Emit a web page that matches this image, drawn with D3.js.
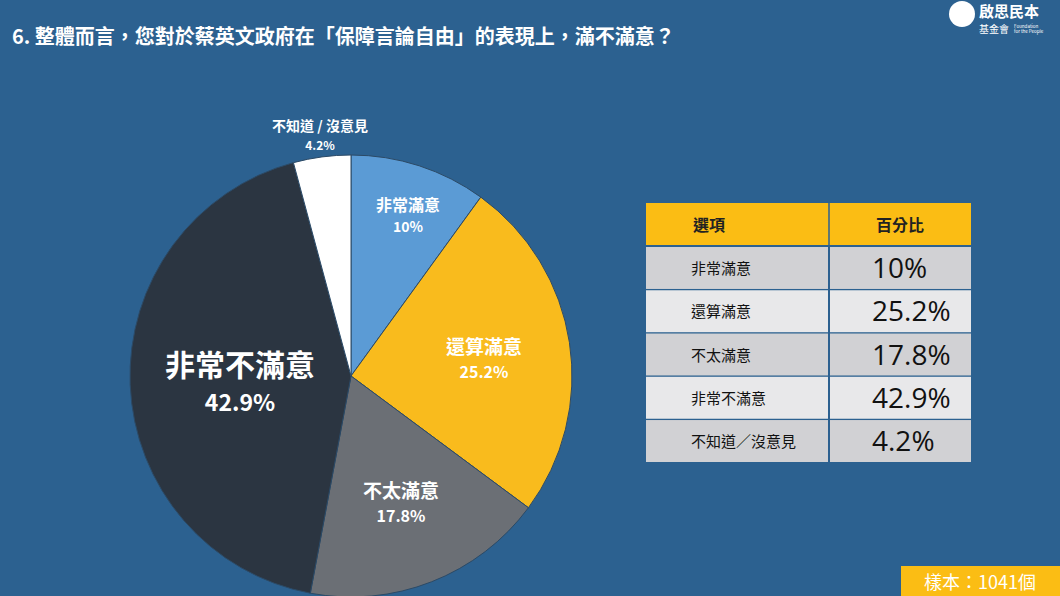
<!DOCTYPE html>
<html><head><meta charset="utf-8">
<script src="https://cdn.jsdelivr.net/npm/d3@7"></script>
<style>body{margin:0;background:#2c6190;font-family:"Noto Sans CJK TC","Noto Sans",sans-serif;}</style>
</head><body>
<svg id="chart" width="1060" height="596"></svg>
<script>
"use strict";

var categories = ["非常滿意", "還算滿意", "不太滿意", "非常不滿意", "不知道 / 沒意見"];
var tableNames = ["非常滿意", "還算滿意", "不太滿意", "非常不滿意", "不知道／沒意見"];
var values = [10, 25.2, 17.8, 42.9, 4.2];
var colors = ["#5b9bd5", "#f9bb1d", "#6b6f75", "#2b3541", "#ffffff"];

var svg = d3.select("#chart");
var F = "'Noto Sans CJK TC', sans-serif";

svg.append("rect").attr("width", 1060).attr("height", 596).attr("fill", "#2c6190");

svg.append("text").attr("x", 12).attr("y", 44).attr("fill", "#fff")
  .attr("font-family", F).attr("font-size", 20).attr("font-weight", "bold")
  .text("6. 整體而言，您對於蔡英文政府在「保障言論自由」的表現上，滿不滿意？");

// logo
var logo = svg.append("g").attr("transform", "translate(962,14)");
logo.append("circle").attr("r", 13).attr("fill", "#fff");
logo.append("text").attr("x", 17).attr("y", 3).attr("fill", "#fff").attr("font-family", F)
  .attr("font-size", 15).attr("font-weight", "bold").text("啟思民本");
logo.append("text").attr("x", 17).attr("y", 19).attr("fill", "#fff").attr("font-family", F)
  .attr("font-size", 10).text("基金會");
logo.append("text").attr("x", 52).attr("y", 14).attr("fill", "#fff").attr("font-family", F)
  .attr("font-size", 4.5).text("Foundation");
logo.append("text").attr("x", 52).attr("y", 19).attr("fill", "#fff").attr("font-family", F)
  .attr("font-size", 4.5).text("for the People");

// pie
var cx = 351, cy = 376, r = 221;
var pie = d3.pie().sort(null).value(function (d) { return d; });
var arcs = pie(values);
var arc = d3.arc().innerRadius(0).outerRadius(r);
var g = svg.append("g").attr("transform", "translate(" + cx + "," + cy + ")");
g.selectAll("path").data(arcs).enter().append("path")
  .attr("d", arc).attr("fill", function (d, i) { return colors[i]; })
  .attr("stroke", "#2c4a66").attr("stroke-width", 1);

// labels
var labelPos = [
  {x: 408, y: 211, s1: 16, s2: 14},
  {x: 484, y: 354, s1: 19, s2: 16},
  {x: 401, y: 498, s1: 19, s2: 16},
  {x: 240, y: 376, s1: 30, s2: 23},
  {x: 320, y: 131, s1: 14, s2: 12}
];
categories.forEach(function (c, i) {
  var p = labelPos[i];
  svg.append("text").attr("x", p.x).attr("y", p.y).attr("text-anchor", "middle")
    .attr("fill", "#fff").attr("font-family", F).attr("font-weight", "bold")
    .attr("font-size", p.s1).text(c);
  svg.append("text").attr("x", p.x).attr("y", p.y + p.s1 + 5).attr("text-anchor", "middle")
    .attr("fill", "#fff").attr("font-family", F).attr("font-weight", "bold")
    .attr("font-size", p.s2).text(values[i] + "%");
});

// table
var tx = 646, tw = 325, split = 829, hy = 203, hh = 42, rh = 43;
var y = d3.scaleBand().domain(d3.range(values.length)).range([hy + hh + 2, hy + hh + 2 + rh * values.length]).paddingInner(0.03);
svg.append("rect").attr("x", tx).attr("y", hy).attr("width", tw).attr("height", hh).attr("fill", "#fbbd14");
svg.append("line").attr("x1", split).attr("x2", split).attr("y1", hy).attr("y2", hy + hh + 2 + rh * 5)
  .attr("stroke", "#2c6190").attr("stroke-width", 1.5);
svg.append("text").attr("x", 709).attr("y", hy + 28).attr("text-anchor", "middle").attr("font-family", F)
  .attr("font-size", 16).attr("font-weight", "bold").attr("fill", "#222").text("選項");
svg.append("text").attr("x", 900).attr("y", hy + 28).attr("text-anchor", "middle").attr("font-family", F)
  .attr("font-size", 16).attr("font-weight", "bold").attr("fill", "#222").text("百分比");
var rows = svg.selectAll("g.row").data(values).enter().append("g").attr("class", "row");
rows.append("rect").attr("x", tx).attr("y", function (d, i) { return y(i); })
  .attr("width", split - tx - 1).attr("height", y.bandwidth())
  .attr("fill", function (d, i) { return i % 2 ? "#e8e8ea" : "#d1d1d4"; });
rows.append("rect").attr("x", split + 1).attr("y", function (d, i) { return y(i); })
  .attr("width", tx + tw - split - 1).attr("height", y.bandwidth())
  .attr("fill", function (d, i) { return i % 2 ? "#e8e8ea" : "#d1d1d4"; });
rows.append("text").attr("x", 691).attr("y", function (d, i) { return y(i) + y.bandwidth() / 2 + 6; })
  .attr("font-family", F).attr("font-size", 15).attr("fill", "#111")
  .text(function (d, i) { return tableNames[i]; });
rows.append("text").attr("x", 872).attr("y", function (d, i) { return y(i) + y.bandwidth() / 2 + 10; })
  .attr("font-family", "'Open Sans', sans-serif").attr("font-size", 28).attr("fill", "#111")
  .text(function (d) { return d + "%"; });

// sample
svg.append("rect").attr("x", 901).attr("y", 566).attr("width", 159).attr("height", 30).attr("fill", "#fbbd14");
svg.append("text").attr("x", 980).attr("y", 589).attr("text-anchor", "middle").attr("font-family", F)
  .attr("font-size", 18).attr("fill", "#fff").text("樣本：1041個");
</script>
</body></html>
